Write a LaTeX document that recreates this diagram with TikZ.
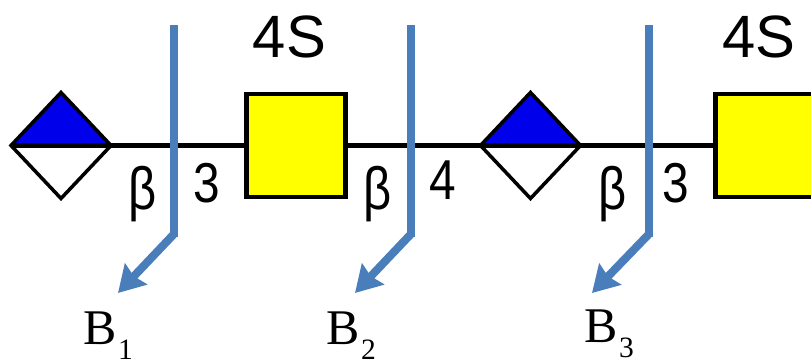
\documentclass[tikz,border=0pt]{standalone}
\usepackage{fontspec}
\setmainfont{Liberation Serif}
\newfontfamily\glyfont{Liberation Sans}
\usetikzlibrary{arrows.meta,shapes.geometric}
\definecolor{cutblue}{RGB}{74,126,187}
\definecolor{sugarblue}{RGB}{0,0,235}
\definecolor{sugaryellow}{RGB}{255,255,0}
\tikzset{
  diamondsugar/.style={diamond,draw=black,line width=1pt,fill=white,inner sep=0pt,outer sep=0pt,
    minimum width=1.0cm,minimum height=1.06cm,
    path picture={\fill[sugarblue] (path picture bounding box.west) rectangle (path picture bounding box.north east);}},
  squaresugar/.style={rectangle,draw=black,line width=1.4pt,fill=sugaryellow,inner sep=0pt,outer sep=0pt,
    minimum width=0.99cm,minimum height=1.03cm},
  bondline/.style={line width=1.2pt,black},
  cutline/.style={line width=2.3pt,cutblue},
  cutarrow/.style={line width=2.3pt,cutblue,-{Stealth[length=0.26cm,width=0.3cm,inset=0.03cm]}},
  glylabel/.style={font=\glyfont\fontsize{17}{20}\selectfont,anchor=base,inner sep=0pt},
  linklabel/.style={glylabel,font=\glyfont\fontsize{16}{20}\selectfont,xscale=0.85},
  fraglabel/.style={font=\fontsize{14.2}{16}\selectfont,anchor=base west,inner sep=0pt}
}
\newcommand{\fragname}[1]{B\kern0.3pt\raisebox{-4.2pt}{\fontsize{8.4}{10}\selectfont #1}}
\begin{document}
\begin{tikzpicture}
\useasboundingbox (0,0) rectangle (8.11,3.62);
% ---------- sugars ----------
\node[diamondsugar] (dia1) at (0.61,2.165) {};
\node[squaresugar] (sq1) at (2.96,2.165) {};
\node[diamondsugar] (dia2) at (5.305,2.165) {};
\node[squaresugar] (sq2) at (7.65,2.165) {};
% ---------- bonds ----------
\draw[bondline] (dia1.west) -- (dia1.east);
\draw[bondline] (dia1.east) -- (sq1.west);
\draw[bondline] (sq1.east) -- (dia2.west);
\draw[bondline] (dia2.west) -- (dia2.east);
\draw[bondline] (dia2.east) -- (sq2.west);
% ---------- linkage labels ----------
\node[glylabel] (sulf1) at (2.895,3.04) {4S};
\node[glylabel] (sulf2) at (7.59,3.04) {4S};
\node[glylabel,xscale=0.82] (beta1) at (1.425,1.52) {β};
\node[glylabel,xscale=0.82] (beta2) at (3.775,1.52) {β};
\node[glylabel,xscale=0.82] (beta3) at (6.125,1.52) {β};
\node[linklabel] (link1) at (2.065,1.59) {3};
\node[linklabel] (link2) at (4.425,1.62) {4};
\node[linklabel] (link3) at (6.755,1.59) {3};
% ---------- cuts ----------
\coordinate (cut1top) at (1.74,3.37);
\coordinate (cut1bot) at (1.74,1.25);
\coordinate (tip1) at (1.18,0.69);
\coordinate (cut2top) at (4.11,3.37);
\coordinate (cut2bot) at (4.11,1.25);
\coordinate (tip2) at (3.55,0.69);
\coordinate (cut3top) at (6.49,3.37);
\coordinate (cut3bot) at (6.49,1.25);
\coordinate (tip3) at (5.92,0.69);
\draw[cutline] (cut1top) -- (cut1bot);
\draw[cutarrow] ([yshift=0.03cm]cut1bot) -- (tip1);
\draw[cutline] (cut2top) -- (cut2bot);
\draw[cutarrow] ([yshift=0.03cm]cut2bot) -- (tip2);
\draw[cutline] (cut3top) -- (cut3bot);
\draw[cutarrow] ([yshift=0.03cm]cut3bot) -- (tip3);
% ---------- fragment names ----------
\node[fraglabel] (frag1) at (0.83,0.17) {\fragname{1}};
\node[fraglabel] (frag2) at (3.26,0.17) {\fragname{2}};
\node[fraglabel] (frag3) at (5.84,0.19) {\fragname{3}};
\end{tikzpicture}
\end{document}
